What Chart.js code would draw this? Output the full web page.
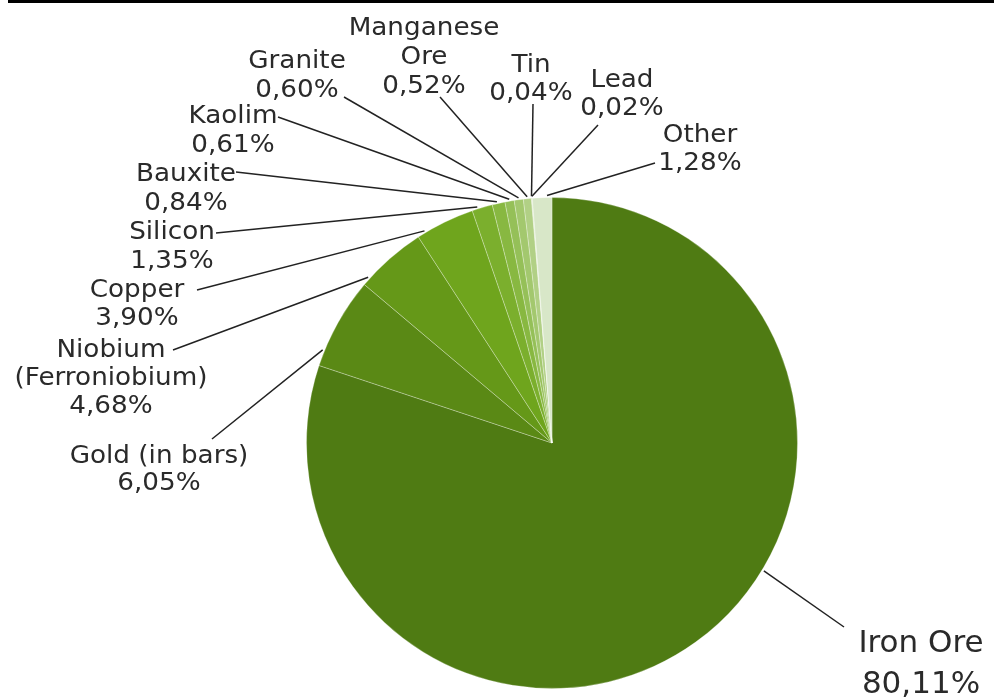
<!DOCTYPE html>
<html>
<head>
<meta charset="utf-8">
<script src="https://cdn.jsdelivr.net/npm/chart.js@4"></script>
<style>
  html, body { margin: 0; padding: 0; background: #fff; }
  #wrap { position: relative; width: 994px; height: 698px; }
</style>
</head>
<body>
<div id="wrap"><canvas id="c" width="994" height="698"></canvas></div>
<script>
// ---- data ----
const categories = ["Iron Ore", "Gold (in bars)", "Niobium (Ferroniobium)", "Copper", "Silicon",
  "Bauxite", "Kaolim", "Granite", "Manganese Ore", "Tin", "Lead", "Other"];
const shares = [80.11, 6.05, 4.68, 3.90, 1.35, 0.84, 0.61, 0.60, 0.52, 0.04, 0.02, 1.28];
const labelLines = [["Iron Ore"], ["Gold (in bars)"], ["Niobium", "(Ferroniobium)"], ["Copper"], ["Silicon"],
  ["Bauxite"], ["Kaolim"], ["Granite"], ["Manganese", "Ore"], ["Tin"], ["Lead"], ["Other"]];
const sliceColors = ["#4f7b13", "#5a8915", "#659818", "#6fa51d", "#7baf2d", "#88b841",
  "#95c058", "#a3c86e", "#b1d085", "#bfd89b", "#cbe0b0", "#d8e7c8"];

// ---- label layout (text centre x, first baseline y, line height, font size, horizontal stretch) ----
const labelLayout = [
  { x: 921, y: 652, lh: 41, fs: 31, sx: 1.0 },
  { x: 159, y: 463, lh: 27, fs: 25, sx: 1.05 },
  { x: 111, y: 357, lh: 28, fs: 25, sx: 1.05 },
  { x: 137, y: 297, lh: 28, fs: 25, sx: 1.05 },
  { x: 172, y: 239, lh: 29, fs: 25, sx: 1.05 },
  { x: 186, y: 181, lh: 29, fs: 25, sx: 1.05 },
  { x: 233, y: 123, lh: 29, fs: 25, sx: 1.05 },
  { x: 297, y: 68,  lh: 29, fs: 25, sx: 1.05 },
  { x: 424, y: 35,  lh: 29, fs: 25, sx: 1.05 },
  { x: 531, y: 72,  lh: 28, fs: 25, sx: 1.05 },
  { x: 622, y: 87,  lh: 28, fs: 25, sx: 1.05 },
  { x: 700, y: 142, lh: 28, fs: 25, sx: 1.05 }
];
// leader line: fraction along the slice where it touches, and its outer end near the label
const leaderFrac = [0.42, 0.17, 0.11, 0.14, 0.28, 0.4, 0.5, 0.5, 0.5, 0.5, 0.5, 0.75];
const leaderEnd = [
  [844, 627], [212, 439], [173, 350], [197, 290], [216, 233], [236, 172],
  [278, 117], [344, 97], [440, 97], [533, 104], [598, 125], [655, 163]
];

function fmt(v) { return v.toFixed(2).replace('.', ',') + '%'; }

const labelPlugin = {
  id: 'pieLabels',
  afterDatasetsDraw(chart) {
    const ctx = chart.ctx;
    const meta = chart.getDatasetMeta(0);
    ctx.save();
    // top rule
    ctx.fillStyle = '#000';
    ctx.fillRect(8, 0, 986, 3);
    ctx.strokeStyle = '#222';
    ctx.lineWidth = 1.5;
    meta.data.forEach((arc, i) => {
      const p = arc.getProps(['x', 'y', 'startAngle', 'endAngle', 'outerRadius'], true);
      const a = p.startAngle + leaderFrac[i] * (p.endAngle - p.startAngle);
      const r = p.outerRadius + 2;
      const sx = p.x + r * Math.cos(a), sy = p.y + r * Math.sin(a);
      ctx.beginPath();
      ctx.moveTo(sx, sy);
      ctx.lineTo(leaderEnd[i][0], leaderEnd[i][1]);
      ctx.stroke();
    });
    ctx.fillStyle = '#2a2a2a';
    ctx.textAlign = 'center';
    ctx.textBaseline = 'alphabetic';
    labelLines.forEach((lines, i) => {
      const L = labelLayout[i];
      ctx.font = L.fs + 'px "DejaVu Sans", Verdana, sans-serif';
      const all = lines.concat([fmt(shares[i])]);
      all.forEach((t, k) => {
        ctx.save();
        ctx.translate(L.x, L.y + k * L.lh);
        ctx.scale(L.sx, 1);
        ctx.fillText(t, 0, 0);
        ctx.restore();
      });
    });
    ctx.restore();
  }
};

new Chart(document.getElementById('c'), {
  type: 'pie',
  data: {
    labels: categories,
    datasets: [{
      data: shares,
      backgroundColor: sliceColors,
      borderColor: 'rgba(255,255,255,0.28)',
      borderWidth: 1
    }]
  },
  options: {
    responsive: false,
    animation: false,
    layout: { padding: { left: 306, right: 196, top: 197, bottom: 9 } },
    plugins: { legend: { display: false }, tooltip: { enabled: false } }
  },
  plugins: [labelPlugin]
});
</script>
</body>
</html>
